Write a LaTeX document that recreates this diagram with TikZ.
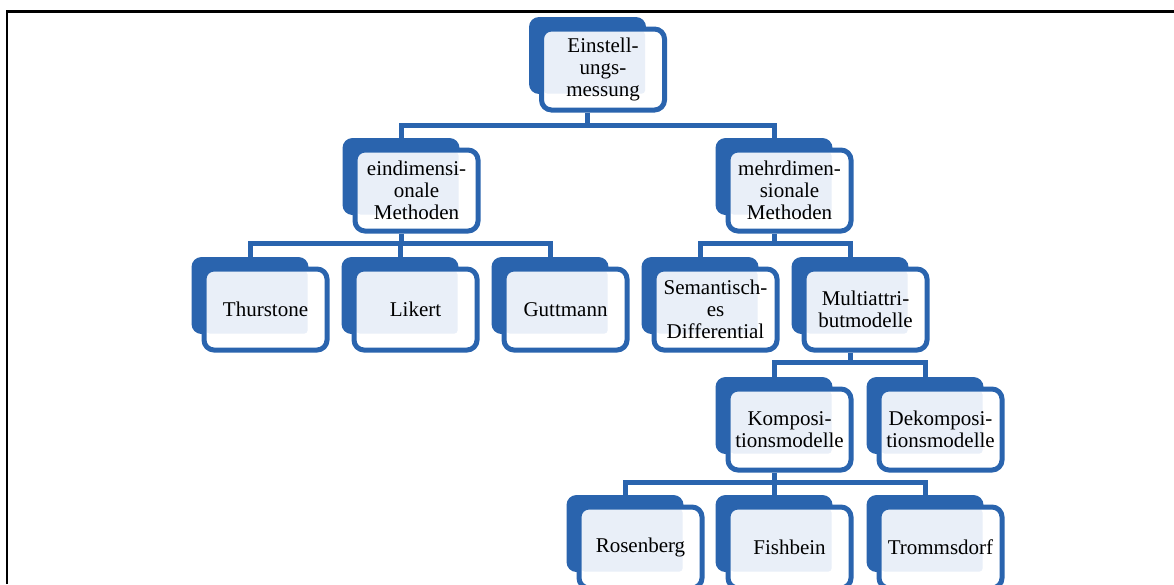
\documentclass[tikz,border=0pt]{standalone}
\usepackage{fontspec}
\setmainfont{Liberation Serif}
\usetikzlibrary{calc}
\definecolor{dblue}{RGB}{42,100,174}
\definecolor{lblue}{RGB}{233,239,248}
\tikzset{
  backbox/.style={rectangle, rounded corners=10pt, fill=dblue, minimum width=117pt, minimum height=77pt, inner sep=0pt},
  frontbox/.style={rectangle, rounded corners=10pt, draw=dblue, line width=5pt, fill=white,
    minimum width=123pt, minimum height=81pt, inner sep=0pt, align=center,
    font=\fontsize{21}{22}\selectfont,
    path picture={\fill[lblue, rounded corners=3pt]
      ($(path picture bounding box.north west)+(2.5,2.5)$) rectangle
      ($(path picture bounding box.south east)+(-19.5,-16.5)$);}},
  conn/.style={draw=dblue, line width=5pt},
  frame/.style={draw=black, line width=2.5pt}
}
\newcommand\orgbox[4]{%
  \node[backbox] (#1b) at (#2, #3+38.5) {};
  \node[frontbox] (#1) at (#2+15.5, #3+52.5) {#4};
}
\begin{document}
\begin{tikzpicture}[x=1pt, y=-1pt]
\useasboundingbox (0,0) rectangle (1174,584);
\clip (0,0) rectangle (1174,584);
\coordinate (fa) at (7,584);
\coordinate (fb) at (7,11.5);
\coordinate (fc) at (1174,11.5);
\draw[frame] (fa) -- (fb) -- (fc);

\orgbox{root}{587.5}{17}{Einstell-\\ungs-\\messung}
\orgbox{eind}{401}{138}{eindimensi-\\onale\\Methoden}
\orgbox{mehr}{774}{138}{mehrdimen-\\sionale\\Methoden}
\orgbox{thur}{250}{257}{Thurstone}
\orgbox{like}{400}{257}{Likert}
\orgbox{gutt}{550}{257}{Guttmann}
\orgbox{sema}{700}{257}{Semantisch-\\es\\Differential}
\orgbox{mult}{850}{257}{Multiattri-\\butmodelle}
\orgbox{komp}{774}{377}{Komposi-\\tionsmodelle}
\orgbox{deko}{925}{377}{Dekomposi-\\tionsmodelle}
\orgbox{rose}{625}{495}{Rosenberg}
\orgbox{fish}{774}{495}{Fishbein}
\orgbox{trom}{925}{495}{Trommsdorf}

\coordinate (bus1) at (0,125);
\coordinate (bus2) at (0,243);
\coordinate (bus3) at (0,243);
\coordinate (bus4) at (0,362.5);
\coordinate (bus5) at (0,482);

\draw[conn] (rootb.center |- root.south) -- (rootb.center |- bus1) -| (eindb.north);
\draw[conn] (rootb.center |- bus1) -| (mehrb.north);

\draw[conn] (eindb.center |- eind.south) -- (eindb.center |- bus2) -| (thurb.north);
\draw[conn] (eindb.center |- bus2) -| (likeb.north);
\draw[conn] (eindb.center |- bus2) -| (guttb.north);

\draw[conn] (mehrb.center |- mehr.south) -- (mehrb.center |- bus3) -| (semab.north);
\draw[conn] (mehrb.center |- bus3) -| (multb.north);

\draw[conn] (multb.center |- mult.south) -- (multb.center |- bus4) -| (kompb.north);
\draw[conn] (multb.center |- bus4) -| (dekob.north);

\draw[conn] (kompb.center |- komp.south) -- (kompb.center |- bus5) -| (roseb.north);
\draw[conn] (kompb.center |- bus5) -| (fishb.north);
\draw[conn] (kompb.center |- bus5) -| (tromb.north);
\end{tikzpicture}
\end{document}
